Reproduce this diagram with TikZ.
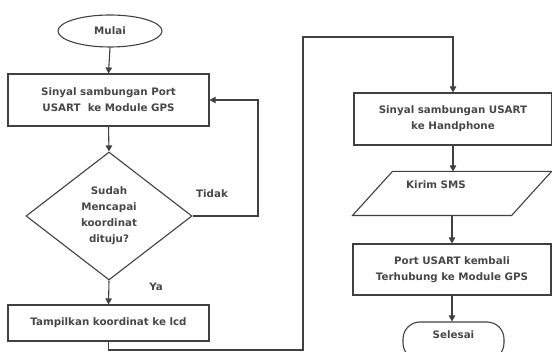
\documentclass[tikz,border=0pt]{standalone}
\usepackage{fontspec}
\setmainfont{DejaVu Sans}
\usetikzlibrary{shapes.geometric,arrows.meta}
\begin{document}
\begin{tikzpicture}[x=1pt,y=-1pt,
  font=\fontsize{10.3}{16}\selectfont\bfseries,
  line width=1.1pt,
  every node/.style={text=black!72},
  box/.style={draw=black!75, rectangle, align=center, inner sep=0pt},
  dia/.style={draw=black!75, diamond, align=center, inner sep=0pt, minimum width=166pt, minimum height=128pt},
  term/.style={draw=black!75, rectangle, rounded corners=17pt, minimum width=101pt, minimum height=38pt, inner sep=0pt},
  conn/.style={draw=black!75, line width=1.1pt},
  arr/.style={conn, -{Triangle[length=6pt,width=6.5pt]}}
]
\useasboundingbox (0,0) rectangle (552,352);
\clip (0,0) rectangle (552,352);
\node[draw=black!75, ellipse, minimum width=104pt, minimum height=32pt, inner sep=0pt] (mulai) at (110,31) {Mulai};
\node[box, minimum width=201pt, minimum height=52pt] (b1) at (108.5,100) {Sinyal sambungan Port\\USART\ \ ke Module GPS};
\node[dia] (d) at (109,216) {Sudah\\Mencapai\\koordinat\\dituju?};
\node (tidak) at (212,194) {Tidak};
\node (ya) at (156,287) {Ya};
\node[box, minimum width=201pt, minimum height=36pt] (b2) at (108.5,323) {Tampilkan koordinat ke lcd};
\node[box, minimum width=198pt, minimum height=52pt] (b3) at (453,119) {Sinyal sambungan USART\\ke Handphone};
\node[minimum width=198pt, minimum height=43pt, inner sep=0pt] (p) at (452,193.5) {};
\draw[draw=black!75] ([xshift=40pt]p.north west) -- (p.north east) -- ([xshift=-40pt]p.south east) -- (p.south west) -- cycle;
\node (ptext) at (436,185) {Kirim SMS};
\node[box, minimum width=198pt, minimum height=51pt] (b4) at (452,269.5) {Port USART kembali\\Terhubung ke Module GPS};
\node[term] (sel) at (453.5,341) {};
\node (seltext) at (453.5,335) {Selesai};
\coordinate (c1) at (258,216);
\coordinate (c2) at (108.5,350);
\coordinate (c3) at (303,350);
\coordinate (c4) at (303,37);
\coordinate (c5) at (453,37);

\draw[arr] (mulai.south) -- (b1.north);
\draw[arr] (b1.south) -- (d.north);
\draw[arr] (d.east) -- (c1) |- (b1.east);
\draw[arr] (d.south) -- (b2.north);
\draw[arr] (b2.south) -- (c2) -- (c3) -- (c4) -- (c5) -- (b3.north);
\draw[arr] (b3.south) -- (b3.south |- p.north);
\draw[arr] (b4.north |- p.south) -- (b4.north);
\draw[arr] (b4.south) -- (b4.south |- sel.north);
\end{tikzpicture}
\end{document}
